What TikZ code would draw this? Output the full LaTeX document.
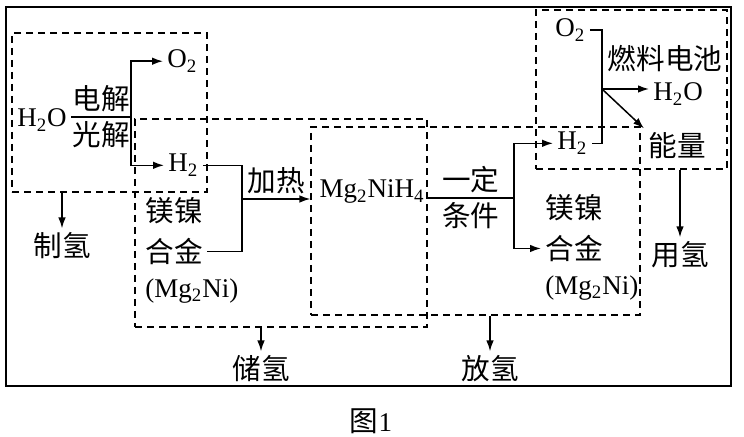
\documentclass[tikz,border=0pt]{standalone}
\usepackage{fontspec}
\setmainfont{Liberation Serif}
\newfontfamily\cjk{Noto Sans CJK SC}
\usetikzlibrary{arrows.meta,positioning,fit}
\newcommand\fsz{\fontsize{13.5}{16}\selectfont}
\newcommand\zsz{\fontsize{14.3}{17}\selectfont}

\begin{document}
\begin{tikzpicture}[
  x=0.5pt, y=0.5pt,
  font=\fsz,
  zh/.style={font=\zsz\cjk, inner sep=2pt},
  chem/.style={inner sep=2pt},
  zone/.style={draw, line width=0.6pt, dash pattern=on 3.6pt off 2.4pt, inner sep=0pt},
  link/.style={line width=0.75pt},
  arr/.style={link, -{Latex[length=5.5pt,width=3.8pt]}}
]
\useasboundingbox (0,0) rectangle (744,437);
\draw[line width=0.8pt] (6,51) rectangle (731,430);

% dashed zones
\node[zone, fit={(12,245) (207,404)}] (zhi) {};
\node[zone, fit={(135,110) (427,318)}] (chu) {};
\node[zone, fit={(311,122) (640,310)}] (fang) {};
\node[zone, fit={(536,268) (727,427)}] (yong) {};

% water splitting
\node[chem, anchor=base] (h2o) at (42,310) {H\textsubscript{2}O};
\coordinate (jd) at (131,320);
\node[chem, anchor=base west] (o2a) at (163,369) {O\textsubscript{2}};
\node[chem, anchor=base west] (h2a) at (164,265) {H\textsubscript{2}};
\draw[link] (jd -| h2o.east) -- node[zh, above] (dj) {电解} node[zh, below] (gj) {光解} (jd);
\draw[arr] (jd) |- (o2a.west);
\draw[arr] (jd) |- (h2a.west);

% storage
\node[zh, anchor=west] (lz1) at (141,226) {镁镍};
\node[zh, below=2.6pt of lz1.south west, anchor=north west] (lz2) {合金};
\node[chem, below=2.6pt of lz2.south west, anchor=north west] (lz3) {(Mg\textsubscript{2}Ni)};
\coordinate (jm) at (242,238);
\draw[link] (h2a.east) -| (jm);
\draw[link] (lz2.east) -| (jm);
\draw[arr] (jm) -- node[zh, above] (jr1) {加热} (jm -| fang.west);
\node[chem, anchor=base] (mh) at (372,239) {Mg\textsubscript{2}NiH\textsubscript{4}};

% release
\coordinate (jf) at (514,239);
\draw[link] (jf -| chu.east) -- node[zh, above] (yd) {一定} node[zh, below] (tj) {条件} (jf);
\node[chem, anchor=base west] (h2b) at (553,287) {H\textsubscript{2}};
\node[zh, anchor=west] (rz1) at (541,229) {镁镍};
\node[zh, below=2.6pt of rz1.south west, anchor=north west] (rz2) {合金};
\node[chem, below=2.6pt of rz2.south west, anchor=north west] (rz3) {(Mg\textsubscript{2}Ni)};
\draw[arr] (jf) |- (h2b.west);
\draw[arr] (jf) |- (rz2.west);

% fuel cell
\node[chem, anchor=base west] (o2b) at (551,400) {O\textsubscript{2}};
\coordinate (jr) at (602,348);
\draw[link] (o2b.east) -| (jr) |- (h2b.east);
\node[zh] (rl) at (665,378) {燃料电池};
\node[chem, anchor=base west] (h2c) at (649,336) {H\textsubscript{2}O};
\node[zh] (nl) at (677,291) {能量};
\draw[arr] (jr) -- (jr -| h2c.west);
\draw[arr] (jr) -- (nl.north west);

% stage labels
\node[zh] (zq) at (62,191) {制氢};
\node[zh] (cq) at (261,68) {储氢};
\node[zh] (fq) at (490,68) {放氢};
\node[zh] (yq) at (680,182) {用氢};
\draw[arr] (zhi.south -| zq) -- (zq.north);
\draw[arr] (chu.south -| cq) -- (cq.north);
\draw[arr] (fang.south -| fq) -- (fq.north);
\draw[arr] (yong.south -| yq) -- (yq.north);

\node (tu) at (371,16) {{\zsz\cjk 图}1};
\end{tikzpicture}
\end{document}
